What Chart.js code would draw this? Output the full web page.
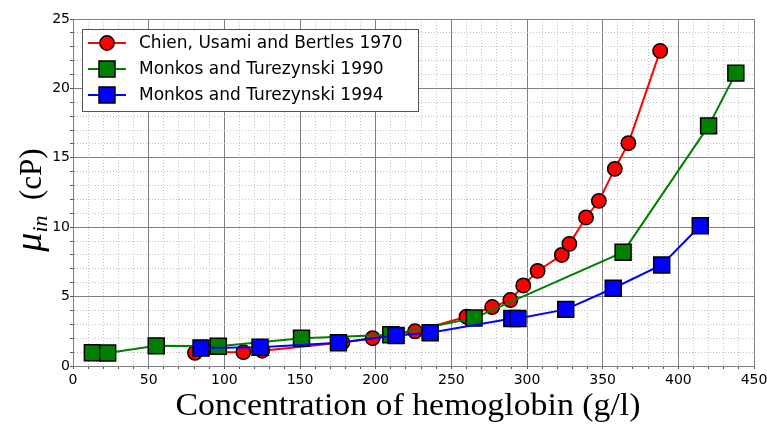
<!DOCTYPE html>
<html>
<head>
<meta charset="utf-8">
<script src="https://cdn.jsdelivr.net/npm/chart.js@4/dist/chart.umd.min.js"></script>
<style>
  body { margin: 0; background: #fff; }
  #wrap { width: 767px; height: 424px; position: relative; }
</style>
</head>
<body>
<div id="wrap"><canvas id="chart"></canvas></div>
<script>
// Intrinsic viscosity vs hemoglobin concentration
const seriesLabels = ['Chien, Usami and Bertles 1970', 'Monkos and Turezynski 1990', 'Monkos and Turezynski 1994'];

const chienX = [80.6, 112.6, 125, 178, 198, 226, 260, 277, 289, 297.5, 307, 323, 328, 339, 347.5, 358, 367, 388];
const chienY = [0.95, 1.0, 1.1, 1.7, 2.0, 2.5, 3.55, 4.25, 4.75, 5.8, 6.85, 8.0, 8.8, 10.7, 11.9, 14.2, 16.05, 22.7];

const monkos90X = [12.8, 22.9, 55, 96, 151, 210, 265, 363.5, 420, 438];
const monkos90Y = [0.95, 0.93, 1.45, 1.42, 2.0, 2.25, 3.45, 8.2, 17.3, 21.1];

const monkos94X = [84.6, 123.6, 175.4, 213.5, 236, 290, 294, 325.6, 357, 389, 414.5];
const monkos94Y = [1.3, 1.35, 1.68, 2.2, 2.4, 3.43, 3.43, 4.08, 5.6, 7.28, 10.1];

const xTicksMajor = 50, xTicksMinor = 10;
const yTicksMajor = 5, yTicksMinor = 1;

function toPoints(xs, ys) {
  return xs.map((x, i) => ({ x: x, y: ys[i] }));
}

function gridColor(step) {
  return ctx => (ctx.tick && ctx.tick.value % step === 0) ? '#7f7f7f' : '#c4c4c4';
}
function gridDash(step) {
  return ctx => (ctx.tick && ctx.tick.value % step !== 0) ? [1, 2] : [];
}

const datasets = [
  { label: seriesLabels[0], data: toPoints(chienX, chienY), borderColor: '#ff0000', backgroundColor: '#ff0000',
    pointStyle: 'circle', pointRadius: 7.2, order: 2 },
  { label: seriesLabels[1], data: toPoints(monkos90X, monkos90Y), borderColor: '#008000', backgroundColor: '#008000',
    pointStyle: 'rect', pointRadius: 11.3, order: 1 },
  { label: seriesLabels[2], data: toPoints(monkos94X, monkos94Y), borderColor: '#0000ff', backgroundColor: '#0000ff',
    pointStyle: 'rect', pointRadius: 11.3, order: 0 }
];
datasets.forEach(d => {
  d.borderWidth = 2;
  d.pointBorderColor = '#000';
  d.pointBorderWidth = 1.5;
  d.pointBackgroundColor = d.backgroundColor;
  d.fill = false;
  d.tension = 0;
  d.clip = false;
});

const overlay = {
  id: 'overlay',
  afterDraw(chart) {
    const ctx = chart.ctx;
    ctx.save();

    // legend box, top-left inside the plot
    ctx.fillStyle = '#fff';
    ctx.fillRect(82.5, 29.5, 336, 82);
    ctx.strokeStyle = '#555';
    ctx.lineWidth = 1;
    ctx.strokeRect(82.5, 29.5, 336, 82);
    datasets.forEach((d, i) => {
      const y = 43 + i * 26;
      ctx.strokeStyle = d.borderColor;
      ctx.lineWidth = 2;
      ctx.beginPath();
      ctx.moveTo(88, y);
      ctx.lineTo(126, y);
      ctx.stroke();
      ctx.fillStyle = d.backgroundColor;
      ctx.strokeStyle = '#000';
      ctx.lineWidth = 1.5;
      Chart.helpers.drawPoint(ctx, { pointStyle: d.pointStyle, radius: d.pointRadius, borderWidth: 1.5, rotation: 0 }, 107, y);
      ctx.fillStyle = '#000';
      ctx.font = '17px "DejaVu Sans"';
      ctx.textAlign = 'left';
      ctx.textBaseline = 'middle';
      ctx.fillText(d.label, 139, y + 1);
    });

    // x axis title, stretched a little to the width of the original serif face
    ctx.fillStyle = '#000';
    ctx.font = '31px "Liberation Serif"';
    ctx.textAlign = 'center';
    ctx.textBaseline = 'alphabetic';
    const xt = 'Concentration of hemoglobin (g/l)';
    const sx = 465 / ctx.measureText(xt).width;
    ctx.save();
    ctx.translate(408, 415);
    ctx.scale(sx, 1);
    ctx.fillText(xt, 0, 0);
    ctx.restore();

    // y axis title: mu with subscript "in", then (cP)
    ctx.translate(41, 200);
    ctx.rotate(-Math.PI / 2);
    ctx.textAlign = 'left';
    const fMu = 'italic 38px "Liberation Serif"';
    const fSub = 'italic 22px "Liberation Serif"';
    const fUnit = '31px "Liberation Serif"';
    ctx.font = fMu; const wMu = ctx.measureText('\u03bc').width;
    ctx.font = fSub; const wSub = ctx.measureText('in').width;
    ctx.font = fUnit; const wUnit = ctx.measureText('  (cP)').width;
    let x = -(wMu + wSub + wUnit) / 2;
    ctx.font = fMu; ctx.fillText('\u03bc', x, 0); x += wMu;
    ctx.font = fSub; ctx.fillText('in', x, 6); x += wSub;
    ctx.font = fUnit; ctx.fillText('  (cP)', x, 0);

    ctx.restore();
  }
};

new Chart(document.getElementById('chart'), {
  type: 'line',
  data: { datasets: datasets },
  options: {
    responsive: true,
    maintainAspectRatio: false,
    animation: false,
    layout: { padding: { left: 0, top: 19, right: 0, bottom: 0 } },
    plugins: { legend: { display: false }, tooltip: { enabled: false } },
    scales: {
      x: {
        type: 'linear', min: 0, max: 450,
        afterFit: s => { s.height = 58; s.paddingRight = 13; s.paddingLeft = 0; },
        ticks: {
          stepSize: xTicksMinor, autoSkip: false, maxRotation: 0, padding: 3,
          color: '#000', font: { family: 'DejaVu Sans', size: 14 },
          callback: v => v % xTicksMajor === 0 ? v : ''
        },
        grid: { color: gridColor(xTicksMajor), lineWidth: 1, tickLength: 3, tickColor: '#555' },
        border: { color: '#7f7f7f', dash: gridDash(xTicksMajor) }
      },
      y: {
        type: 'linear', min: 0, max: 25,
        afterFit: s => { s.width = 73; },
        ticks: {
          stepSize: yTicksMinor, autoSkip: false, padding: 0,
          color: '#000', font: { family: 'DejaVu Sans', size: 14 },
          callback: v => v % yTicksMajor === 0 ? v : ''
        },
        grid: { color: gridColor(yTicksMajor), lineWidth: 1, tickLength: 3, tickColor: '#555' },
        border: { color: '#7f7f7f', dash: gridDash(yTicksMajor) }
      }
    }
  },
  plugins: [overlay]
});
</script>
</body>
</html>
